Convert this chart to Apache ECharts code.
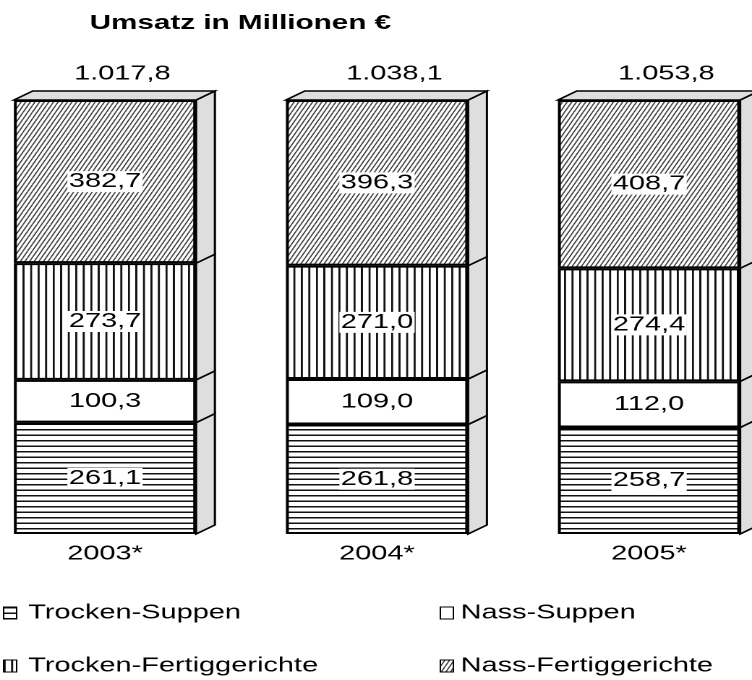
<!DOCTYPE html>
<html>
<head>
<meta charset="utf-8">
<script src="https://cdn.jsdelivr.net/npm/echarts@6/dist/echarts.min.js"></script>
<style>
  html, body { margin: 0; padding: 0; background: #fff; overflow: hidden; }
  /* the original picture is stretched sideways, so the chart is drawn narrow and widened */
  #main { width: 520px; height: 680px; transform: scaleX(1.44615); transform-origin: 0 0; }
</style>
</head>
<body>
<div id="main"></div>
<script>
const categories = ['2003*', '2004*', '2005*']
const trockenSuppen = [261.1, 261.8, 258.7]
const nassSuppen = [100.3, 109.0, 112.0]
const trockenFertig = [273.7, 271.0, 274.4]
const nassFertig = [382.7, 396.3, 408.7]
const seriesNames = ['Trocken-Suppen', 'Nass-Suppen', 'Trocken-Fertiggerichte', 'Nass-Fertiggerichte']

const FONT = 'Liberation Sans, Arial, sans-serif'
const BAR_W = 126
const DX = 13
const DY = 9
const SIDE = '#dedede'

const raw = [trockenSuppen, nassSuppen, trockenFertig, nassFertig]
const totals = categories.map((c, i) => raw.reduce((s, arr) => s + arr[i], 0))
// every column is drawn at full height (share of its total)
const shares = raw.map(arr => arr.map((v, i) => v / totals[i] * 100))

function fmt(v) {
  const parts = v.toFixed(1).split('.')
  parts[0] = parts[0].replace(/\B(?=(\d{3})+(?!\d))/g, '.')
  return parts[0] + ',' + parts[1]
}

function makePattern(w, h, draw) {
  const k = 4
  const c = document.createElement('canvas')
  c.width = Math.round(w * k)
  c.height = Math.round(h * k)
  const ctx = c.getContext('2d')
  ctx.scale(c.width / w, c.height / h)
  ctx.fillStyle = '#fff'
  ctx.fillRect(0, 0, w, h)
  draw(ctx, w, h)
  return { image: c, repeat: 'repeat', scaleX: w / c.width, scaleY: h / c.height }
}

const hLines = makePattern(4, 5.5, (ctx, w) => {
  ctx.fillStyle = '#111'
  ctx.fillRect(0, 0, w, 1.5)
})
const vLines = makePattern(5.2, 4, (ctx, w, h) => {
  ctx.fillStyle = '#111'
  ctx.fillRect(0, 0, 1.4, h)
})
const diag = makePattern(3.2, 6.6, (ctx, w, h) => {
  ctx.strokeStyle = '#444'
  ctx.lineWidth = 1.0
  for (let x0 = -w; x0 <= w; x0 += w) {
    ctx.beginPath()
    ctx.moveTo(x0, h)
    ctx.lineTo(x0 + w, 0)
    ctx.stroke()
  }
})
const fills = [hLines, '#fff', vLines, diag]

const chart = echarts.init(document.getElementById('main'), null, { devicePixelRatio: 2 })

const barSeries = seriesNames.map((name, s) => ({
  name: name,
  type: 'bar',
  stack: 'total',
  barWidth: BAR_W,
  data: shares[s],
  itemStyle: {
    color: fills[s],
    borderColor: '#000',
    borderWidth: 2
  },
  label: {
    show: true,
    position: 'inside',
    color: '#000',
    fontFamily: FONT,
    fontSize: 20,
    backgroundColor: '#fff',
    padding: [1, 1, 0, 1],
    formatter: p => fmt(raw[s][p.dataIndex])
  },
  emphasis: { disabled: true }
}))

const depthSeries = {
  type: 'custom',
  silent: true,
  z: 3,
  data: categories.map((c, i) => [i].concat(shares.map(arr => arr[i]))),
  encode: { x: 0, y: [1, 2, 3, 4] },
  renderItem(params, api) {
    const i = api.value(0)
    const hw = BAR_W / 2
    const bounds = [0]
    for (let k = 1; k <= 4; k++) bounds.push(bounds[k - 1] + api.value(k))
    const children = []
    for (let k = 0; k < 4; k++) {
      const b = api.coord([i, bounds[k]])
      const t = api.coord([i, bounds[k + 1]])
      const xr = b[0] + hw
      children.push({
        type: 'polygon',
        shape: { points: [[xr, b[1]], [xr + DX, b[1] - DY], [xr + DX, t[1] - DY], [xr, t[1]]] },
        style: { fill: SIDE, stroke: '#000', lineWidth: 1.5 }
      })
    }
    const top = api.coord([i, bounds[4]])
    children.push({
      type: 'polygon',
      shape: { points: [[top[0] - hw, top[1]], [top[0] - hw + DX, top[1] - DY], [top[0] + hw + DX, top[1] - DY], [top[0] + hw, top[1]]] },
      style: { fill: SIDE, stroke: '#000', lineWidth: 1.5 }
    })
    children.push({
      type: 'text',
      x: top[0] + 12,
      y: top[1] - 26,
      style: {
        text: fmt(totals[i]),
        font: '20px ' + FONT,
        fill: '#000',
        textAlign: 'center',
        textVerticalAlign: 'middle'
      }
    })
    return { type: 'group', children: children }
  }
}

function legendAt(name, left, top, gap) {
  return {
    data: [name],
    left: left,
    top: top,
    padding: 0,
    icon: 'rect',
    itemWidth: 9,
    itemHeight: 12,
    selectedMode: false,
    itemStyle: { borderColor: '#000', borderWidth: 1 },
    textStyle: { fontFamily: FONT, fontSize: 20, color: '#000', padding: [4, 0, 0, gap] }
  }
}

chart.setOption({
  animation: false,
  backgroundColor: '#fff',
  title: {
    text: 'Umsatz in Millionen €',
    left: 57,
    top: 8,
    textStyle: { fontFamily: FONT, fontSize: 20.5, fontWeight: 'bold', color: '#000' }
  },
  legend: [
    legendAt('Trocken-Suppen', 2, 603, 3),
    legendAt('Nass-Suppen', 304, 603, 0),
    legendAt('Trocken-Fertiggerichte', 2, 656, 3),
    legendAt('Nass-Fertiggerichte', 304, 656, 0)
  ],
  grid: { left: 72.6, right: 71.2, top: 100, bottom: 146 },
  xAxis: {
    type: 'category',
    data: categories,
    boundaryGap: false,
    axisLine: { show: false },
    axisTick: { show: false },
    axisLabel: { margin: 10, color: '#000', fontFamily: FONT, fontSize: 20 }
  },
  yAxis: {
    type: 'value',
    min: 0,
    max: 100,
    show: false
  },
  series: barSeries.concat([depthSeries])
})
</script>
</body>
</html>
